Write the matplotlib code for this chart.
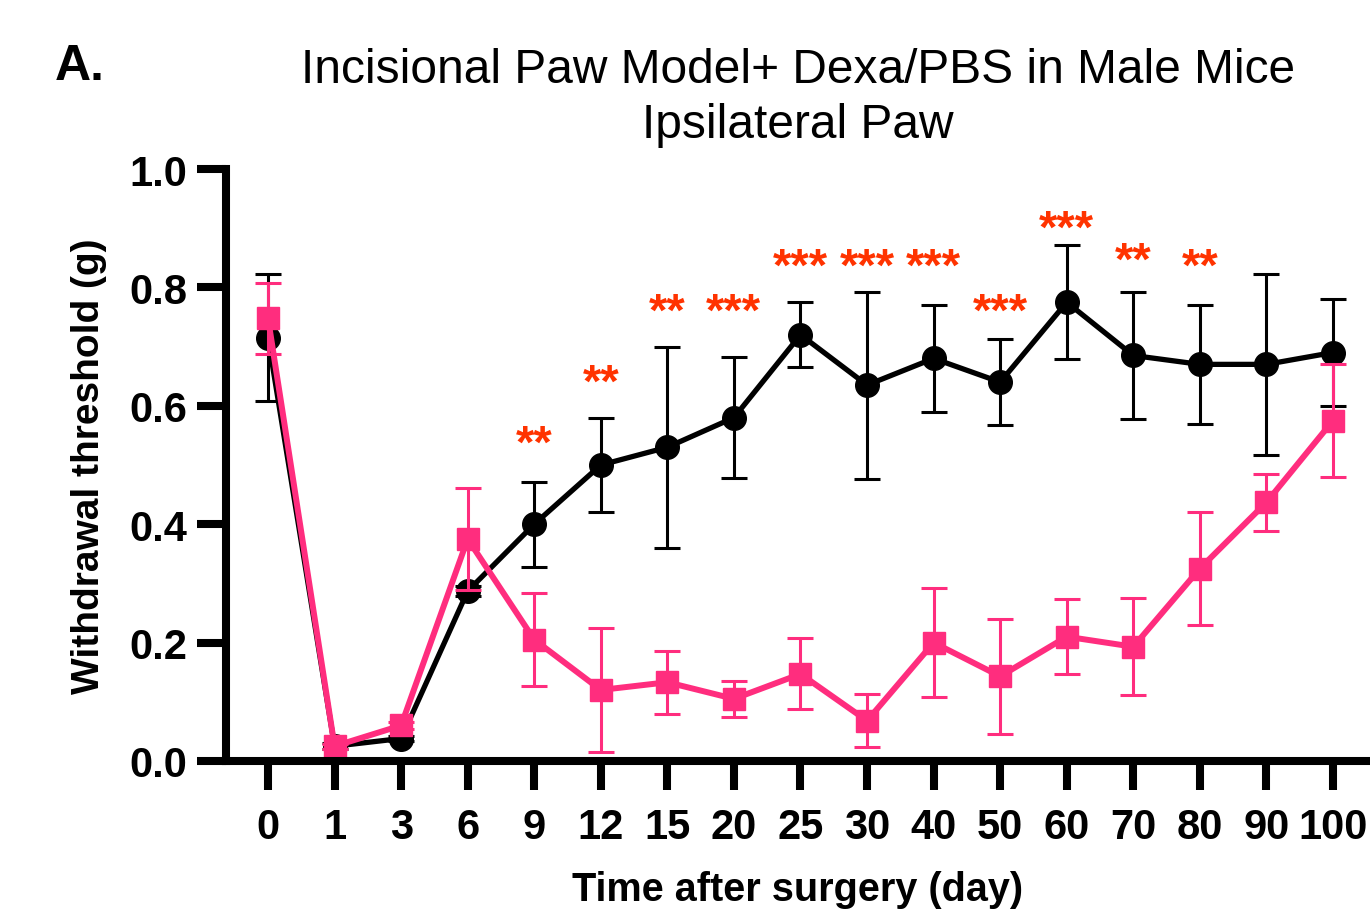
import matplotlib
matplotlib.use("Agg")
import matplotlib.pyplot as plt

plt.rcParams["font.family"] = ["Liberation Sans", "DejaVu Sans"]

# Time points (categorical, equally spaced on the axis)
days = ["0", "1", "3", "6", "9", "12", "15", "20", "25", "30",
        "40", "50", "60", "70", "80", "90", "100"]

# Black series (circles)
black_mean = [0.715, 0.025, 0.038, 0.287, 0.400, 0.500, 0.530, 0.580, 0.720,
              0.635, 0.680, 0.640, 0.775, 0.685, 0.670, 0.670, 0.690]
black_err = [0.107, 0.005, 0.005, 0.008, 0.072, 0.080, 0.170, 0.102, 0.055,
             0.158, 0.091, 0.072, 0.096, 0.107, 0.100, 0.153, 0.090]

# Pink series (squares)
pink_mean = [0.748, 0.025, 0.060, 0.375, 0.205, 0.120, 0.133, 0.105, 0.147,
             0.068, 0.200, 0.143, 0.210, 0.193, 0.325, 0.437, 0.575]
pink_err = [0.060, 0.004, 0.006, 0.086, 0.078, 0.105, 0.053, 0.030, 0.060,
            0.045, 0.092, 0.097, 0.063, 0.082, 0.095, 0.048, 0.095]

# Significance marks: (day index, label, height of the stars)
star_idx = [4, 5, 6, 7, 8, 9, 10, 11, 12, 13, 14]
star_txt = ["**", "**", "**", "***", "***", "***", "***", "***", "***", "**", "**"]
star_y = [0.535, 0.638, 0.757, 0.757, 0.833, 0.833, 0.833, 0.757, 0.898, 0.843, 0.833]

PINK = "#FF2D7E"
STAR = "#FF3300"

fig = plt.figure(figsize=(13.7, 9.2), dpi=100)
ax = fig.add_axes([226 / 1370, 158 / 920, 1 - 226 / 1370, 592 / 920])

x = list(range(len(days)))

ax.errorbar(x, black_mean, yerr=black_err, color="black", marker="o",
            markersize=17, linewidth=3.8, elinewidth=2.2, capsize=9.5,
            capthick=2.2, zorder=3)
ax.errorbar(x, pink_mean, yerr=pink_err, color=PINK, marker="s",
            markersize=16.5, linewidth=4.3, elinewidth=2.2, capsize=9.5,
            capthick=2.2, zorder=4)

for i, t, yv in zip(star_idx, star_txt, star_y):
    ax.text(x[i], yv, t, color=STAR, fontsize=34, fontweight="bold",
            ha="center", va="center", zorder=5)

ax.set_xlim(-0.631, 16.556)
ax.set_ylim(0, 1.0)
ax.set_xticks(x)
ax.set_xticklabels(days)
ax.set_yticks([0.0, 0.2, 0.4, 0.6, 0.8, 1.0])
ax.set_yticklabels(["0.0", "0.2", "0.4", "0.6", "0.8", "1.0"])

for side in ["top", "right"]:
    ax.spines[side].set_visible(False)
for side in ["left", "bottom"]:
    ax.spines[side].set_linewidth(5.8)
    ax.spines[side].set_capstyle("projecting")
    ax.spines[side].set_zorder(6)

ax.tick_params(axis="both", direction="out", length=21, width=5.8,
               labelsize=30)
ax.tick_params(axis="x", pad=12)
ax.tick_params(axis="y", pad=7)
for lab in ax.get_xticklabels() + ax.get_yticklabels():
    lab.set_fontweight("bold")

ax.set_xlabel("Time after surgery (day)", fontsize=28.5, fontweight="bold",
              labelpad=17)
ax.set_ylabel("Withdrawal threshold (g)", fontsize=28, fontweight="bold",
              labelpad=16)
ax.set_title("Incisional Paw Model+ Dexa/PBS in Male Mice\nIpsilateral Paw",
             fontsize=34.5, pad=23, linespacing=1.3)

fig.text(55 / 1370, 1 - 80 / 920, "A.", fontsize=36, fontweight="bold",
         ha="left", va="baseline")

fig.savefig("out.png", dpi=100)
